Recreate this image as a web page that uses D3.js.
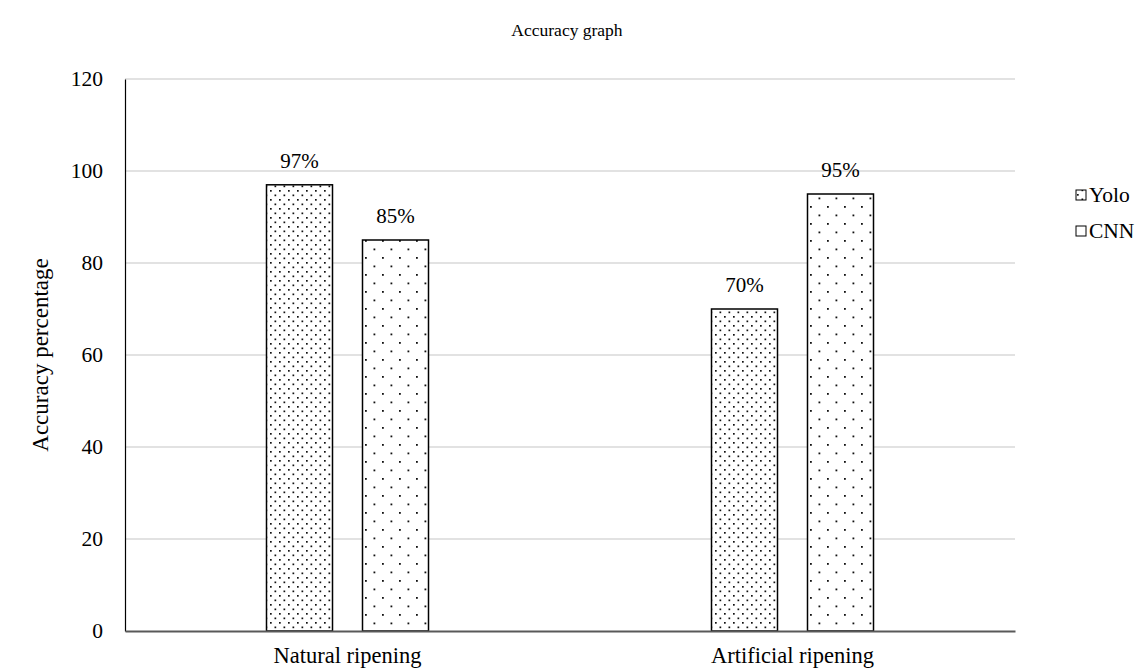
<!DOCTYPE html>
<html><head><meta charset="utf-8">
<script src="https://cdn.jsdelivr.net/npm/d3@7/dist/d3.min.js"></script>
<style>body{margin:0;background:#fff}svg{display:block}text{font-family:"Liberation Serif","Times New Roman",serif;fill:#000}</style>
</head><body><svg id="c" width="1136" height="670"></svg>
<script>
const categories = ["Natural ripening", "Artificial ripening"];
const series = ["Yolo", "CNN"];
const yoloValues = [97, 70];
const cnnValues = [85, 95];
const yTicks = [0, 20, 40, 60, 80, 100, 120];

const svg = d3.select("#c");
const L = 125, R = 1015, T = 79, B = 631;
const defs = svg.append("defs");
const p1 = defs.append("pattern").attr("id","pYolo").attr("patternUnits","userSpaceOnUse").attr("width",9).attr("height",9);
p1.append("rect").attr("width",9).attr("height",9).attr("fill","#fff");
[[1,1],[5.5,5.5]].forEach(d=>p1.append("rect").attr("x",d[0]).attr("y",d[1]).attr("width",1.7).attr("height",1.7).attr("fill","#111"));
const p2 = defs.append("pattern").attr("id","pCNN").attr("patternUnits","userSpaceOnUse").attr("width",17).attr("height",17);
p2.append("rect").attr("width",17).attr("height",17).attr("fill","#fff");
[[2,2],[10.5,10.5]].forEach(d=>p2.append("rect").attr("x",d[0]).attr("y",d[1]).attr("width",1.8).attr("height",1.8).attr("fill","#111"));
const fills = {Yolo:"url(#pYolo)", CNN:"url(#pCNN)"};

const y = d3.scaleLinear().domain([0,120]).range([B,T]);
const x0 = d3.scaleBand().domain(categories).range([L,R]);
const bw = x0.bandwidth();
const x1 = d3.scaleBand().domain(series).range([bw/2-81, bw/2+81]).paddingInner(0.3125);

svg.append("g").selectAll("line").data(yTicks.filter(t=>t>0)).join("line")
  .attr("x1",L).attr("x2",R).attr("y1",d=>y(d)).attr("y2",d=>y(d))
  .attr("stroke","#d9d9d9").attr("stroke-width",1.5);

const ya = svg.append("g").attr("transform",`translate(${L},0)`)
  .call(d3.axisLeft(y).tickValues(yTicks).tickSize(0).tickPadding(22));
ya.select(".domain").attr("stroke","#000").attr("stroke-width",1.2);
ya.selectAll("text").attr("font-size",21.5).attr("font-family","Liberation Serif");

const data = categories.map((c,i)=>({cat:c, vals:[{s:"Yolo",v:yoloValues[i]},{s:"CNN",v:cnnValues[i]}]}));
const g = svg.append("g").selectAll("g").data(data).join("g").attr("transform",d=>`translate(${x0(d.cat)},0)`);
g.selectAll("rect").data(d=>d.vals).join("rect")
  .attr("x",d=>x1(d.s)).attr("width",x1.bandwidth())
  .attr("y",d=>y(d.v)).attr("height",d=>B-y(d.v))
  .attr("fill",d=>fills[d.s]).attr("stroke","#000").attr("stroke-width",1.5);
g.selectAll("text").data(d=>d.vals).join("text")
  .attr("x",d=>x1(d.s)+x1.bandwidth()/2).attr("y",d=>y(d.v)-17)
  .attr("text-anchor","middle").attr("font-size",21).text(d=>d.v+"%");

const xa = svg.append("g").attr("transform",`translate(0,${B})`)
  .call(d3.axisBottom(x0).tickSize(0).tickPadding(16));
xa.select(".domain").attr("stroke","#595959").attr("stroke-width",1.8);
xa.selectAll("text").attr("font-size",22.5).attr("font-family","Liberation Serif");

svg.append("text").attr("x",567).attr("y",36).attr("text-anchor","middle").attr("font-size",17.5).text("Accuracy graph");
svg.append("text").attr("transform",`translate(48,${(T+B)/2}) rotate(-90)`).attr("text-anchor","middle").attr("font-size",23).text("Accuracy percentage");

const lg = svg.append("g").selectAll("g").data(series).join("g").attr("transform",(d,i)=>`translate(1076,${202+i*36})`);
lg.append("rect").attr("x",0).attr("y",-12).attr("width",10).attr("height",10).attr("fill",d=>fills[d]).attr("stroke","#000").attr("stroke-width",1);
lg.append("text").attr("x",13).attr("y",0).attr("font-size",21.5).text(d=>d);
</script></body></html>
